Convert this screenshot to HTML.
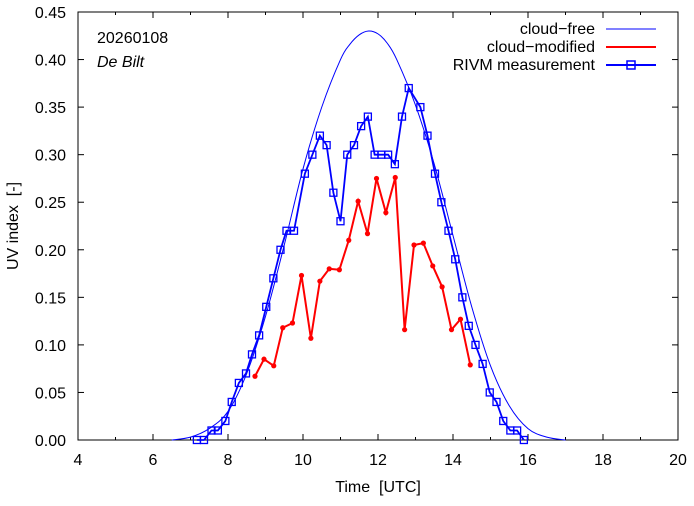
<!DOCTYPE html>
<html><head><meta charset="utf-8"><style>
body{margin:0;background:#fff}
svg text{font-family:"Liberation Sans",sans-serif;fill:#000;white-space:pre}
</style></head><body>
<svg width="694" height="501" xmlns="http://www.w3.org/2000/svg">
<g id="axes"></g>
<g id="series"></g>
<text x="97" y="43" font-size="16">20260108</text>
<text x="97" y="67" font-size="16" font-style="italic">De Bilt</text>
<g>
<g><text x="595" y="34" font-size="16" text-anchor="end">cloud−free</text><line x1="606" y1="29" x2="656" y2="29" stroke="#0000ff" stroke-width="1"/></g>
<g><text x="595" y="52" font-size="16" text-anchor="end">cloud−modified</text><line x1="606" y1="47" x2="656" y2="47" stroke="#ff0000" stroke-width="2"/></g>
<g><text x="595" y="70" font-size="16" text-anchor="end">RIVM measurement</text><line x1="606" y1="65" x2="656" y2="65" stroke="#0000ff" stroke-width="2"/><rect x="627" y="61" width="8" height="8" fill="none" stroke="#0000ff" stroke-width="1.5"/></g>
</g>
</svg>
<script>
const xTicks=[4,6,8,10,12,14,16,18,20];
const yTicks=[0,0.05,0.1,0.15,0.2,0.25,0.3,0.35,0.4,0.45];
const yTickLabels=["0.00","0.05","0.10","0.15","0.20","0.25","0.30","0.35","0.40","0.45"];
const clearT=[6.5,7,7.5,8,8.5,9,9.5,10,10.5,11,11.25,11.5,11.75,12,12.25,12.5,13,13.5,14,14.5,15,15.5,16,16.5,17];
const clearV=[0,0.003,0.012,0.03,0.07,0.13,0.205,0.285,0.35,0.4,0.416,0.426,0.43,0.427,0.417,0.4,0.352,0.29,0.215,0.14,0.078,0.036,0.012,0.003,0];
const measT=[7.17,7.36,7.56,7.73,7.93,8.1,8.29,8.48,8.64,8.83,9.02,9.21,9.4,9.56,9.76,10.05,10.25,10.45,10.63,10.81,11,11.18,11.36,11.55,11.73,11.91,12.09,12.27,12.45,12.64,12.82,13.13,13.32,13.52,13.69,13.88,14.06,14.25,14.42,14.6,14.79,14.98,15.16,15.34,15.53,15.71,15.89];
const measV=[0,0,0.01,0.01,0.02,0.04,0.06,0.07,0.09,0.11,0.14,0.17,0.2,0.22,0.22,0.28,0.3,0.32,0.31,0.26,0.23,0.3,0.31,0.33,0.34,0.3,0.3,0.3,0.29,0.34,0.37,0.35,0.32,0.28,0.25,0.22,0.19,0.15,0.12,0.1,0.08,0.05,0.04,0.02,0.01,0.01,0];
const cloudT=[8.72,8.96,9.22,9.46,9.72,9.96,10.21,10.45,10.7,10.97,11.22,11.47,11.72,11.96,12.21,12.46,12.71,12.96,13.21,13.46,13.71,13.96,14.2,14.46];
const cloudV=[0.067,0.085,0.078,0.118,0.123,0.173,0.107,0.167,0.18,0.179,0.21,0.251,0.217,0.275,0.239,0.276,0.116,0.205,0.207,0.183,0.161,0.116,0.127,0.079];
const L=78,R=678,T=12,B=440;
const X=t=>L+(t-4)/16*(R-L);
const Y=v=>B-v/0.45*(B-T);
const NS="http://www.w3.org/2000/svg";
function mk(tag,attrs,parent){const e=document.createElementNS(NS,tag);for(const k in attrs)e.setAttribute(k,attrs[k]);parent.appendChild(e);return e;}
const ax=document.getElementById('axes'),se=document.getElementById('series');
const frame=mk('rect',{x:L,y:T,width:R-L,height:B-T,fill:'none',stroke:'#000','stroke-width':1},ax);


xTicks.forEach(t=>{const x=X(t);
 mk('line',{x1:x,y1:B,x2:x,y2:B-6,stroke:'#000'},ax);mk('line',{x1:x,y1:T,x2:x,y2:T+6,stroke:'#000'},ax);
 const tx=mk('text',{x:x,y:B+25,'font-size':16,'text-anchor':'middle'},ax);tx.textContent=t;
 
 
});
for(let i=0;i<xTicks.length-1;i++){const x=X((xTicks[i]+xTicks[i+1])/2);mk('line',{x1:x,y1:B,x2:x,y2:B-3,stroke:'#000'},ax);mk('line',{x1:x,y1:T,x2:x,y2:T+3,stroke:'#000'},ax);}
yTicks.forEach((v,i)=>{const y=Y(v);
 mk('line',{x1:L,y1:y,x2:L+6,y2:y,stroke:'#000'},ax);mk('line',{x1:R,y1:y,x2:R-6,y2:y,stroke:'#000'},ax);
 const tx=mk('text',{x:L-12,y:y+6,'font-size':16,'text-anchor':'end'},ax);tx.textContent=yTickLabels[i];
 
 
});
const xt=mk('text',{x:(L+R)/2,y:492,'font-size':16,'text-anchor':'middle'},ax);xt.textContent='Time  [UTC]';


const yt=mk('text',{x:18,y:(T+B)/2,'font-size':16,'text-anchor':'middle',transform:`rotate(-90 18 ${(T+B)/2})`},ax);yt.textContent='UV index  [-]';


const P=clearT.map((t,i)=>[X(t),Y(clearV[i])]);
let d=`M${P[0][0]},${P[0][1]}`;
for(let i=0;i<P.length-1;i++){const p0=P[Math.max(0,i-1)],p1=P[i],p2=P[i+1],p3=P[Math.min(P.length-1,i+2)];
 d+=` C${p1[0]+(p2[0]-p0[0])/6},${p1[1]+(p2[1]-p0[1])/6} ${p2[0]-(p3[0]-p1[0])/6},${p2[1]-(p3[1]-p1[1])/6} ${p2[0]},${p2[1]}`;}
const cf=mk('path',{d:d,fill:'none',stroke:'#0000ff','stroke-width':1},se);


const ml=mk('polyline',{points:measT.map((t,i)=>X(t)+','+Y(measV[i])).join(' '),fill:'none',stroke:'#0000ff','stroke-width':1.8},se);


measT.forEach((t,i)=>{const r=mk('rect',{x:X(t)-3.5,y:Y(measV[i])-3.5,width:7,height:7,fill:'none',stroke:'#0000ff','stroke-width':1.3},se);
 
 });
const cl=mk('polyline',{points:cloudT.map((t,i)=>X(t)+','+Y(cloudV[i])).join(' '),fill:'none',stroke:'#ff0000','stroke-width':2},se);


cloudT.forEach((t,i)=>{const c=mk('circle',{cx:X(t),cy:Y(cloudV[i]),r:2.6,fill:'#ff0000'},se);
 
 });
</script>
</body></html>
